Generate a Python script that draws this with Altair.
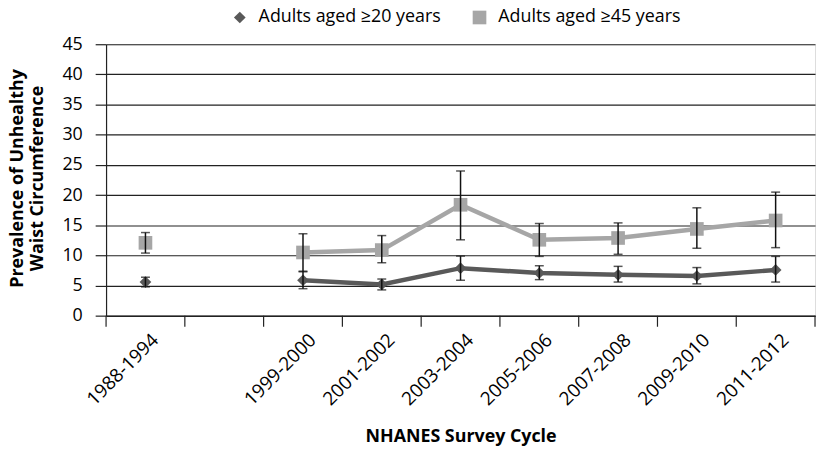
import altair as alt
import pandas as pd

# ---- data ----
cycles = ["1988-1994", " ", "1999-2000", "2001-2002", "2003-2004",
          "2005-2006", "2007-2008", "2009-2010", "2011-2012"]
plotted = ["1988-1994", "1999-2000", "2001-2002", "2003-2004",
           "2005-2006", "2007-2008", "2009-2010", "2011-2012"]
segment = [0, 1, 1, 1, 1, 1, 1, 1]

series = ["Adults aged \u226520 years", "Adults aged \u226545 years"]
age20 = [5.6, 5.9, 5.2, 7.9, 7.1, 6.8, 6.6, 7.6]
age20_lo = [4.8, 4.5, 4.3, 5.9, 6.0, 5.6, 5.3, 5.6]
age20_hi = [6.4, 7.4, 6.1, 9.9, 8.3, 8.2, 8.0, 9.85]
age45 = [12.1, 10.5, 10.9, 18.4, 12.6, 12.9, 14.4, 15.8]
age45_lo = [10.4, 7.3, 8.8, 12.6, 9.85, 10.2, 11.2, 11.3]
age45_hi = [13.8, 13.6, 13.3, 24.0, 15.3, 15.4, 17.9, 20.5]
y_ticks = [0, 5, 10, 15, 20, 25, 30, 35, 40, 45]

rows = []
for name, vals, los, his in [(series[0], age20, age20_lo, age20_hi),
                             (series[1], age45, age45_lo, age45_hi)]:
    for c, s, v, lo, hi in zip(plotted, segment, vals, los, his):
        rows.append({"cycle": c, "series": name, "value": v, "lo": lo,
                     "hi": hi, "seg": s})
df = pd.DataFrame(rows)

tick_df = pd.DataFrame({"cycle": cycles})
last_df = pd.DataFrame({"cycle": [cycles[-1]]})

W, H = 715.7, 274.2
FONT = "Open Sans"

xscale = alt.Scale(type="band", domain=cycles, paddingInner=0, paddingOuter=0)
yscale = alt.Scale(domain=[0, 45], nice=False)

x_axis = alt.Axis(title="NHANES Survey Cycle", labelAngle=-45,
                  labelAlign="right", labelBaseline="middle",
                  labelPadding=21, labelOffset=10, ticks=False,
                  labelFontSize=19, labelFont=FONT, labelColor="#000",
                  labelLimit=0,
                  domainColor="#222", domainWidth=1.2,
                  titleFont=FONT, titleFontSize=18,
                  titleFontWeight="bold", titleColor="#000",
                  titleX=W / 2, titleY=127,
                  titleBaseline="alphabetic", titleAlign="center")
y_axis = alt.Axis(title=["Prevalence of Unhealthy", "Waist Circumference"],
                  values=y_ticks, grid=True, gridColor="#222",
                  gridWidth=1.2, tickSize=11, tickColor="#222",
                  tickWidth=1.2, domainColor="#222", domainWidth=1.2,
                  labelFontSize=18, labelFont=FONT, labelColor="#000",
                  labelPadding=13,
                  titleFont=FONT, titleFontSize=18,
                  titleFontWeight="bold", titleColor="#000",
                  titleAngle=270, titleX=-98, titleY=135,
                  titleAlign="center", titleBaseline="top",
                  titleLineHeight=20)
legend = alt.Legend(title=None, orient="none", direction="horizontal",
                    legendX=126, legendY=-36,
                    labelFont=FONT, labelFontSize=18, labelLimit=0,
                    labelColor="#000", symbolSize=196,
                    symbolStrokeWidth=0, columnPadding=30,
                    labelOffset=10)

def X(bp=None):
    if bp is None:
        return alt.X("cycle:N", scale=xscale, sort=cycles, axis=x_axis)
    return alt.X("cycle:N", scale=xscale, sort=cycles, axis=x_axis, bandPosition=bp)

def Y(field):
    return alt.Y(field, scale=yscale, axis=y_axis)

color_scale = alt.Scale(domain=series, range=["#595959", "#a6a6a6"])
shape_scale = alt.Scale(domain=series, range=["diamond", "square"])
size_scale = alt.Scale(domain=series, range=[140, 190])

base = alt.Chart(df)

xticks = alt.Chart(tick_df).mark_rule(color="#222", strokeWidth=1.2).encode(
    x=X(0), y=alt.value(H), y2=alt.value(H + 11))
xtick_last = alt.Chart(last_df).mark_rule(color="#222", strokeWidth=1.2).encode(
    x=X(1), y=alt.value(H), y2=alt.value(H + 11))

lines = base.mark_line(strokeWidth=4.5).encode(
    x=X(), y=Y("value:Q"),
    color=alt.Color("series:N", scale=color_scale, legend=legend),
    detail="seg:N")

points = base.mark_point(filled=True, opacity=1).encode(
    x=X(), y=Y("value:Q"),
    color=alt.Color("series:N", scale=color_scale, legend=legend),
    shape=alt.Shape("series:N", scale=shape_scale, legend=legend),
    size=alt.Size("series:N", scale=size_scale, legend=None))

err_rule = base.mark_rule(color="#111", strokeWidth=1.5).encode(
    x=X(), y=Y("lo:Q"), y2="hi:Q")
err_lo = base.mark_tick(color="#111", thickness=1.5, size=9).encode(
    x=X(), y=Y("lo:Q"))
err_hi = base.mark_tick(color="#111", thickness=1.5, size=9).encode(
    x=X(), y=Y("hi:Q"))

chart = alt.layer(lines, points, err_rule, err_lo, err_hi, xticks, xtick_last).properties(
    width=W, height=H,
    autosize=alt.AutoSizeParams(type="none"),
    padding={"left": 99, "top": 34.5, "right": 2, "bottom": 130},
).configure_view(stroke="#222", strokeWidth=1.2).configure(background="white")

chart.save("out.html", embed_options={"renderer": "svg", "actions": False})
